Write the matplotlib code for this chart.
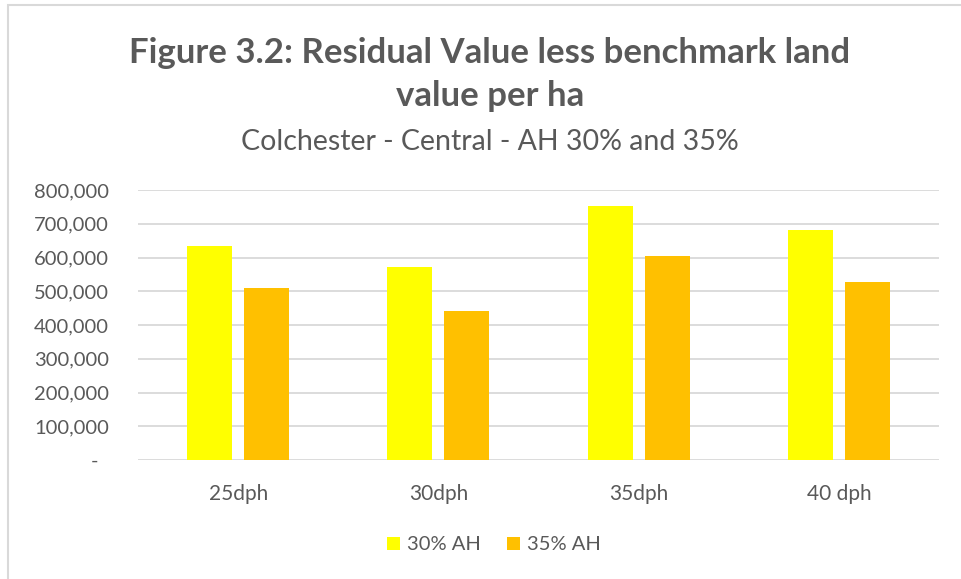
import matplotlib.pyplot as plt
import matplotlib.patches as mpatches
from matplotlib.ticker import FuncFormatter
import numpy as np

plt.rcParams['font.family'] = ['Lato', 'DejaVu Sans']

categories = ['25dph', '30dph', '35dph', '40 dph']
ah30 = [635000, 572000, 754000, 682000]
ah35 = [509000, 442000, 604000, 528000]
series_names = ['30% AH', '35% AH']
colors = ['#ffff00', '#ffc000']
text_color = '#595959'

W, H = 961, 579
fig = plt.figure(figsize=(W / 100, H / 100), dpi=100)
ax = fig.add_axes([138 / W, 1 - 460 / H, (939 - 138) / W, 270 / H])

x = np.arange(len(categories))
bw = 0.225
off = 0.1425
b1 = ax.bar(x - off, ah30, bw, color=colors[0], label=series_names[0], zorder=3)
b2 = ax.bar(x + off, ah35, bw, color=colors[1], label=series_names[1], zorder=3)

ax.set_xlim(-0.5, len(categories) - 0.5)
ax.set_ylim(0, 800000)
ax.set_yticks(np.arange(0, 800001, 100000))
ax.yaxis.set_major_formatter(FuncFormatter(lambda v, p: '-  ' if v == 0 else f'{v:,.0f}'))
ax.set_xticks(x)
ax.set_xticklabels(categories)
ax.grid(axis='y', color='#d9d9d9', linewidth=1.3, zorder=0)
for s in ax.spines.values():
    s.set_visible(False)
ax.tick_params(axis='both', length=0, colors=text_color, labelsize=15)
ax.tick_params(axis='y', pad=21, labelsize=14.5)
ax.tick_params(axis='x', pad=17)

fig.text(490 / W, 1 - 63 / H, 'Figure 3.2: Residual Value less benchmark land',
         ha='center', va='baseline', fontsize=25, fontweight='bold', color=text_color)
fig.text(490 / W, 1 - 106 / H, 'value per ha',
         ha='center', va='baseline', fontsize=25, fontweight='bold', color=text_color)
fig.text(490 / W, 1 - 150 / H, 'Colchester - Central - AH 30% and 35%',
         ha='center', va='baseline', fontsize=20.5, color=text_color)

fig.legend(handles=[b1, b2], loc='center', bbox_to_anchor=(494 / W, 1 - 545 / H),
           ncol=2, frameon=False, fontsize=14.5, labelcolor=text_color,
           handlelength=0.65, handleheight=0.65, handletextpad=0.35, columnspacing=1.3)

border = mpatches.Rectangle((8 / W, -0.05), 1.1, 1 - 5 / H + 0.05, transform=fig.transFigure,
                            fill=False, edgecolor='#d9d9d9', linewidth=1.5, clip_on=False)
fig.patches.append(border)

fig.savefig('out.png', dpi=100)
